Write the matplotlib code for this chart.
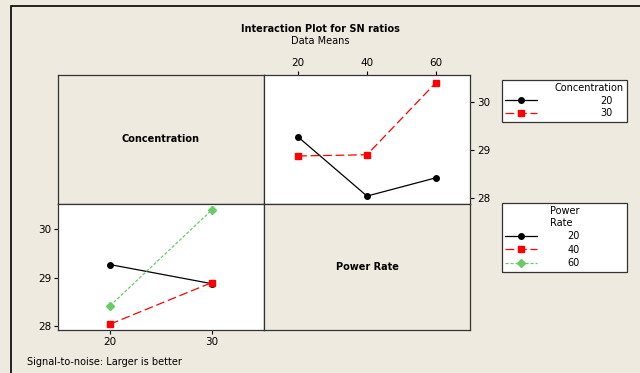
import matplotlib.pyplot as plt
from matplotlib.patches import Rectangle

# data
power_rate = [20, 40, 60]
concentration = [20, 30]
sn_conc20 = [29.27, 28.04, 28.42]   # concentration 20 vs power rate
sn_conc30 = [28.875, 28.90, 30.40]  # concentration 30 vs power rate
sn_pr20 = [29.27, 28.875]           # power rate 20 vs concentration
sn_pr40 = [28.04, 28.90]
sn_pr60 = [28.42, 30.40]

bg = '#EEEAE0'
green = '#66CC66'
W, H = 640, 373

plt.rcParams['font.family'] = 'DejaVu Sans'
plt.rcParams['font.size'] = 7

fig = plt.figure(figsize=(6.4, 3.73), dpi=100, facecolor=bg)


def box(x0, y0, x1, y1):
    # pixel box (top-left origin) -> figure fraction rect
    return [x0 / W, 1 - y1 / H, (x1 - x0) / W, (y1 - y0) / H]


fig.patches.append(Rectangle((11 / W, -0.1), 1.2, 1 - 6 / H + 0.1,
                             transform=fig.transFigure, fill=False,
                             edgecolor='black', lw=1.2))

ax_tl = fig.add_axes(box(58, 75, 264, 204))
ax_tr = fig.add_axes(box(264, 75, 470, 204))
ax_bl = fig.add_axes(box(58, 204, 264, 330))
ax_br = fig.add_axes(box(264, 204, 470, 330))

for ax in (ax_tl, ax_tr, ax_bl, ax_br):
    for s in ax.spines.values():
        s.set_linewidth(0.9)
        s.set_color('#333333')

for ax, label in ((ax_tl, 'Concentration'), (ax_br, 'Power Rate')):
    ax.set_facecolor(bg)
    ax.set_xticks([])
    ax.set_yticks([])
    ax.text(0.5, 0.5, label, transform=ax.transAxes, ha='center',
            va='center', fontweight='bold', fontsize=7)

# top right: x = power rate, lines = concentration
ax_tr.set_facecolor('white')
l1, = ax_tr.plot(power_rate, sn_conc20, color='black', lw=0.9, marker='o',
                 ms=4, label='20')
l2, = ax_tr.plot(power_rate, sn_conc30, color='red', lw=0.9, ls=(0, (7, 3)),
                 marker='s', ms=4, label='30')
ax_tr.set_xlim(10.1, 69.9)
ax_tr.set_ylim(27.875, 30.56)
ax_tr.set_xticks(power_rate)
ax_tr.set_yticks([28, 29, 30])
ax_tr.xaxis.tick_top()
ax_tr.yaxis.tick_right()
ax_tr.tick_params(length=3, width=0.8, pad=2, labelsize=7.5)

# bottom left: x = concentration, lines = power rate
ax_bl.set_facecolor('white')
m1, = ax_bl.plot(concentration, sn_pr20, color='black', lw=0.9, marker='o',
                 ms=4, label='20')
m2, = ax_bl.plot(concentration, sn_pr40, color='red', lw=0.9, ls=(0, (7, 3)),
                 marker='s', ms=4, label='40')
m3, = ax_bl.plot(concentration, sn_pr60, color=green, lw=0.9, ls=(0, (2.5, 1.5)),
                 marker='D', ms=4, label='60')
ax_bl.set_xlim(14.9, 35.1)
ax_bl.set_ylim(27.92, 30.52)
ax_bl.set_xticks(concentration)
ax_bl.set_yticks([28, 29, 30])
ax_bl.tick_params(length=3, width=0.8, pad=2, labelsize=7.5)

leg_kw = dict(frameon=True, fancybox=False, edgecolor='#333333',
              facecolor='white', framealpha=1, fontsize=7, title_fontsize=7,
              handlelength=3.2, borderpad=0.35, mode='expand',
              labelspacing=0.25, borderaxespad=0, loc='upper left')
leg1 = fig.legend(handles=[l1, l2], title='Concentration', handletextpad=6.6,
                  bbox_to_anchor=(502 / W, 1 - 80 / H - 0.1, 125 / W, 0.1),
                  **leg_kw)
leg1.get_frame().set_linewidth(0.9)
leg1._legend_box.align = 'right'
leg2 = fig.legend(handles=[m1, m2, m3], title='Power\nRate', handletextpad=3.2,
                  labelspacing=0.35,
                  **{k: v for k, v in leg_kw.items() if k != 'labelspacing'},
                  bbox_to_anchor=(502 / W, 1 - 203 / H - 0.1, 125 / W, 0.1))
leg2.get_frame().set_linewidth(0.9)

fig.text(320 / W, 1 - 29 / H, 'Interaction Plot for SN ratios',
         ha='center', va='center', fontweight='bold', fontsize=7)
fig.text(320 / W, 1 - 41 / H, 'Data Means', ha='center', va='center',
         fontsize=7)
fig.text(27 / W, 1 - 362 / H, 'Signal-to-noise: Larger is better',
         ha='left', va='center', fontsize=7)

fig.savefig('out.png', dpi=100, facecolor=bg)
